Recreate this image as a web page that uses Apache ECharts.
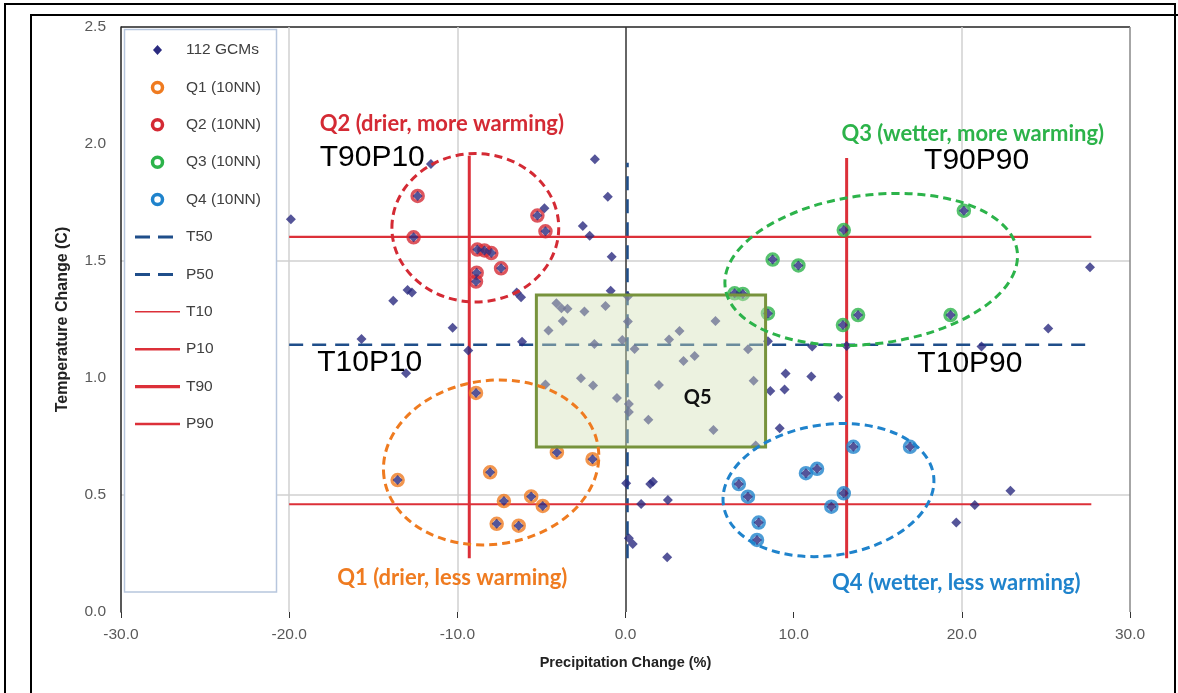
<!DOCTYPE html>
<html><head><meta charset="utf-8">
<script src="https://cdn.jsdelivr.net/npm/echarts@6/dist/echarts.min.js"></script>
<style>html,body{margin:0;padding:0;background:#fff}#c{width:1178px;height:693px}</style>
</head><body><div id="c"></div>
<script>
// ---------- DATA ----------
const xTicks = [-30, -20, -10, 0, 10, 20, 30];
const yTicks = [0, 0.5, 1.0, 1.5, 2.0, 2.5];

// [precipitation change %, temperature change C]
const q1Points = [[-8.89,0.936],[-13.55,0.564],[-8.05,0.597],[-7.23,0.474],[-5.61,0.494],[-4.92,0.453],[-7.66,0.377],[-6.35,0.369],[-4.08,0.682],[-1.96,0.653]];
const q2Points = [[-12.36,1.778],[-12.60,1.601],[-8.81,1.549],[-8.39,1.545],[-7.98,1.534],[-7.40,1.469],[-8.85,1.450],[-8.89,1.412],[-5.24,1.694],[-4.76,1.627]];
const q3Points = [[20.12,1.715],[12.98,1.632],[8.75,1.506],[10.28,1.481],[6.49,1.362],[6.98,1.359],[8.47,1.276],[13.83,1.269],[12.93,1.226],[19.33,1.269]];
const q4Points = [[6.74,0.547],[7.28,0.493],[7.92,0.382],[7.82,0.308],[10.73,0.593],[11.39,0.612],[13.55,0.706],[16.92,0.706],[12.98,0.507],[12.24,0.450]];
const otherGcmPoints = [
  [-11.57,1.915],[-19.90,1.678],[-12.96,1.376],[-12.70,1.365],[-13.81,1.330],[-6.47,1.365],[-6.21,1.345],[-10.28,1.215],[-15.70,1.167],[-6.15,1.155],
  [-9.35,1.117],[-13.05,1.020],[-4.82,1.725],[-2.54,1.650],[-2.13,1.608],[-1.82,1.935],[-1.05,1.775],[-0.82,1.518],[-0.88,1.373],
  [-4.11,1.319],[-3.81,1.298],[-3.45,1.296],[-2.44,1.284],[-1.19,1.308],[-3.73,1.244],[-4.58,1.203],[0.14,1.241],[-1.85,1.145],[-0.19,1.162],
  [0.54,1.124],[2.59,1.165],[3.21,1.201],[5.35,1.244],[3.45,1.073],[4.11,1.094],[7.29,1.123],[-2.65,0.999],[-1.93,0.968],[-0.51,0.915],
  [0.20,0.889],[1.99,0.970],[7.62,0.988],[1.36,0.822],[5.23,0.778],[7.74,0.712],[-4.76,0.972],
  [8.47,1.157],[11.10,1.135],[13.15,1.137],[9.52,1.019],[11.05,1.006],[8.61,0.944],[9.46,0.951],[9.17,0.785],[12.65,0.919],
  [27.62,1.473],[25.14,1.212],[21.17,1.135],[22.89,0.518],[20.77,0.457],[19.67,0.382],
  [0.04,0.550],[1.47,0.547],[1.63,0.557],[0.93,0.462],[2.52,0.479],[0.20,0.315],[0.43,0.291],[2.48,0.234],[0.20,0.855],[0.14,1.348]
];
const gcmPoints = otherGcmPoints.concat(q1Points, q2Points, q3Points, q4Points);

const gcmName = '112 GCMs';
const qNames = ['Q1 (10NN)', 'Q2 (10NN)', 'Q3 (10NN)', 'Q4 (10NN)'];

// percentile lines
const pctNames = ['T50', 'P50', 'T10', 'P10', 'T90', 'P90'];
const pctAxis  = ['T', 'P', 'T', 'P', 'T', 'P'];
const pctValue = [1.142, 0.12, 0.461, -9.29, 1.603, 13.15];
const pctFrom  = [-20, 0.23, -20, 0.23, -20, 0.23];
const pctTo    = [27.7, 1.92, 27.7, 1.95, 27.7, 1.94];

// Q5 box corners
const q5Box = [[-5.30, 0.705], [8.33, 1.355]];

// cluster ellipses (data units)
const ellipseCenters = [[-7.99, 0.639], [-8.93, 1.642], [14.61, 1.464], [12.07, 0.521]];
const ellipseRadii   = [[6.43, 0.35], [4.96, 0.317], [8.75, 0.318], [6.31, 0.280]];
const ellipseTilt    = [8, 0, 7, 8];

// annotation texts and anchors (data units)
const quadLabels  = ['Q1 (drier, less warming)', 'Q2 (drier, more warming)', 'Q3 (wetter, more warming)', 'Q4 (wetter, less warming)'];
const quadAnchors = [[-10.30, 0.145], [-10.92, 2.085], [20.65, 2.045], [19.67, 0.126]];
const cornerLabels  = ['T90P10', 'T10P10', 'T90P90', 'T10P90'];
const cornerAnchors = [[-15.06, 1.940], [-15.21, 1.066], [20.88, 1.927], [20.48, 1.062]];
const q5Label = 'Q5';
const q5Anchor = [4.29, 0.917];

// ---------- STYLE ----------
const NAVY = '#2b2b80', DNAVY = '#1f4e8a', RED = '#dc3039';
const ORANGE = '#ef7b20', QRED = '#d42a34', GREEN = '#2cb34a', BLUE = '#1f83cc';
const qColors = [ORANGE, QRED, GREEN, BLUE];
const pctStyle = {
  T50: {color: DNAVY, width: 2.5, type: [14, 9]},
  P50: {color: DNAVY, width: 2.5, type: [14, 9]},
  T10: {color: RED, width: 2},
  P10: {color: RED, width: 3},
  T90: {color: RED, width: 2.2},
  P90: {color: RED, width: 3}
};
const legendLineWidth = {T50: 3, P50: 3, T10: 1.6, P10: 2.6, T90: 3.4, P90: 2.6};
const FONT = '"Liberation Sans", Arial, sans-serif';

const chart = echarts.init(document.getElementById('c'));

const series = [];
pctNames.forEach((n, i) => {
  const data = pctAxis[i] === 'T'
    ? [[pctFrom[i], pctValue[i]], [pctTo[i], pctValue[i]]]
    : [[pctValue[i], pctFrom[i]], [pctValue[i], pctTo[i]]];
  series.push({name: n, type: 'line', data, symbol: 'none', lineStyle: pctStyle[n], itemStyle: {color: pctStyle[n].color}, z: 2, silent: true});
});
[q1Points, q2Points, q3Points, q4Points].forEach((pts, i) => {
  series.push({name: qNames[i], type: 'scatter', data: pts, symbol: 'circle', symbolSize: 11,
    itemStyle: {color: 'rgba(0,0,0,0)', borderColor: qColors[i], borderWidth: 3.5}, z: 3, silent: true});
});
series.push({name: gcmName, type: 'scatter', data: gcmPoints, symbol: 'diamond', symbolSize: 10,
  itemStyle: {color: NAVY}, z: 4, silent: true});
series.push({name: 'Q5 box', type: 'scatter', data: [], z: 10, silent: true,
  markArea: {silent: true, z: 10, itemStyle: {color: 'rgba(210,225,180,0.42)', borderColor: '#77933c', borderWidth: 3},
    data: [[{coord: q5Box[0]}, {coord: q5Box[1]}]]}});

const option = {
  animation: false,
  textStyle: {fontFamily: FONT},
  grid: {left: 121, right: 48, top: 27, bottom: 81},
  xAxis: {
    type: 'value', min: xTicks[0], max: xTicks[xTicks.length - 1], interval: 10,
    axisLine: {show: false, onZero: false},
    axisTick: {show: true, length: 6, lineStyle: {color: '#333'}},
    axisLabel: {formatter: v => v.toFixed(1), color: '#595959', fontSize: 15.5, margin: 15},
    splitLine: {show: true, lineStyle: {width: 1.5, color: ['rgba(0,0,0,0)', '#d0d0d0', '#d0d0d0', '#333', 'rgba(0,0,0,0)', '#d0d0d0', '#888']}},
    name: 'Precipitation Change (%)', nameLocation: 'middle', nameGap: 43,
    nameTextStyle: {fontWeight: 'bold', fontSize: 14.5, color: '#222'}
  },
  yAxis: {
    type: 'value', min: yTicks[0], max: yTicks[yTicks.length - 1], interval: 0.5,
    axisLine: {show: true, onZero: false, lineStyle: {color: '#222', width: 1.5}},
    axisTick: {show: false},
    axisLabel: {formatter: v => v.toFixed(1), color: '#595959', fontSize: 15.5, margin: 15},
    splitLine: {show: true, lineStyle: {width: 1.5, color: ['rgba(0,0,0,0)', '#d0d0d0', 'rgba(0,0,0,0)', '#d0d0d0', 'rgba(0,0,0,0)', '#222']}},
    name: 'Temperature Change (C)', nameLocation: 'middle', nameGap: 50,
    nameTextStyle: {fontWeight: 'bold', fontSize: 16, color: '#222'}
  },
  series
};
chart.setOption(option);

// ---------- annotations & legend (anchored via the chart's scales) ----------
const px = p => chart.convertToPixel({gridIndex: 0}, p);
const els = [
  {type: 'rect', z: 0, shape: {x: 5, y: 4, width: 1170, height: 720}, style: {fill: 'none', stroke: '#000', lineWidth: 2}},
  {type: 'polyline', z: 0, shape: {points: [[31, 720], [31, 15], [1190, 15]]}, style: {fill: 'none', stroke: '#000', lineWidth: 2}},
  {type: 'rect', z: 10, shape: {x: 124.5, y: 29.5, width: 152, height: 562.5}, style: {fill: '#fff', stroke: '#b7c6dd', lineWidth: 1.5}}
];
// legend
const legendEntries = [gcmName].concat(qNames, pctNames);
const legTop = 50, legStep = 37.4, iconCx = 157.5, textX = 186;
legendEntries.forEach((name, i) => {
  const y = legTop + i * legStep;
  if (i === 0) {
    els.push({type: 'polygon', z: 20, shape: {points: [[iconCx, y - 5], [iconCx + 4.5, y], [iconCx, y + 5], [iconCx - 4.5, y]]}, style: {fill: NAVY}});
  } else if (i <= 4) {
    els.push({type: 'circle', z: 20, shape: {cx: iconCx, cy: y, r: 5}, style: {fill: '#fff', stroke: qColors[i - 1], lineWidth: 3.5}});
  } else {
    const st = pctStyle[name];
    const dashed = Array.isArray(st.type);
    els.push({type: 'line', z: 20, shape: {x1: 135, y1: y, x2: dashed ? 173 : 180, y2: y},
      style: {stroke: st.color, lineWidth: legendLineWidth[name], lineDash: dashed ? [15, 8] : null}});
  }
  els.push({type: 'text', z: 20, x: textX, y: y, style: {text: name, fill: '#404040', font: '15.5px ' + FONT,
    align: 'left', verticalAlign: 'middle', textAlign: 'left', textVerticalAlign: 'middle'}});
});
ellipseCenters.forEach((ctr, i) => {
  const c = px(ctr);
  const e = px([ctr[0] + ellipseRadii[i][0], ctr[1] + ellipseRadii[i][1]]);
  els.push({type: 'ellipse', z: 30, x: c[0], y: c[1], rotation: ellipseTilt[i] * Math.PI / 180,
    shape: {cx: 0, cy: 0, rx: Math.abs(e[0] - c[0]), ry: Math.abs(c[1] - e[1])},
    style: {fill: 'none', stroke: qColors[i], lineWidth: 3, lineDash: [8, 5]}});
});
quadLabels.forEach((t, i) => {
  const p = px(quadAnchors[i]);
  els.push({type: 'text', z: 31, x: p[0], y: p[1], style: {text: t, fill: qColors[i], font: 'bold 22px Lato, "Open Sans", sans-serif',
    align: 'center', verticalAlign: 'middle', textAlign: 'center', textVerticalAlign: 'middle'}});
});
cornerLabels.forEach((t, i) => {
  const p = px(cornerAnchors[i]);
  els.push({type: 'text', z: 31, x: p[0], y: p[1], style: {text: t, fill: '#000', font: '30px ' + FONT,
    align: 'center', verticalAlign: 'middle', textAlign: 'center', textVerticalAlign: 'middle'}});
});
{
  const p = px(q5Anchor);
  els.push({type: 'text', z: 31, x: p[0], y: p[1], style: {text: q5Label, fill: '#111', font: 'bold 20px Lato, "Open Sans", sans-serif',
    align: 'center', verticalAlign: 'middle', textAlign: 'center', textVerticalAlign: 'middle'}});
}
chart.setOption({graphic: {elements: els}});
</script>
</body></html>
